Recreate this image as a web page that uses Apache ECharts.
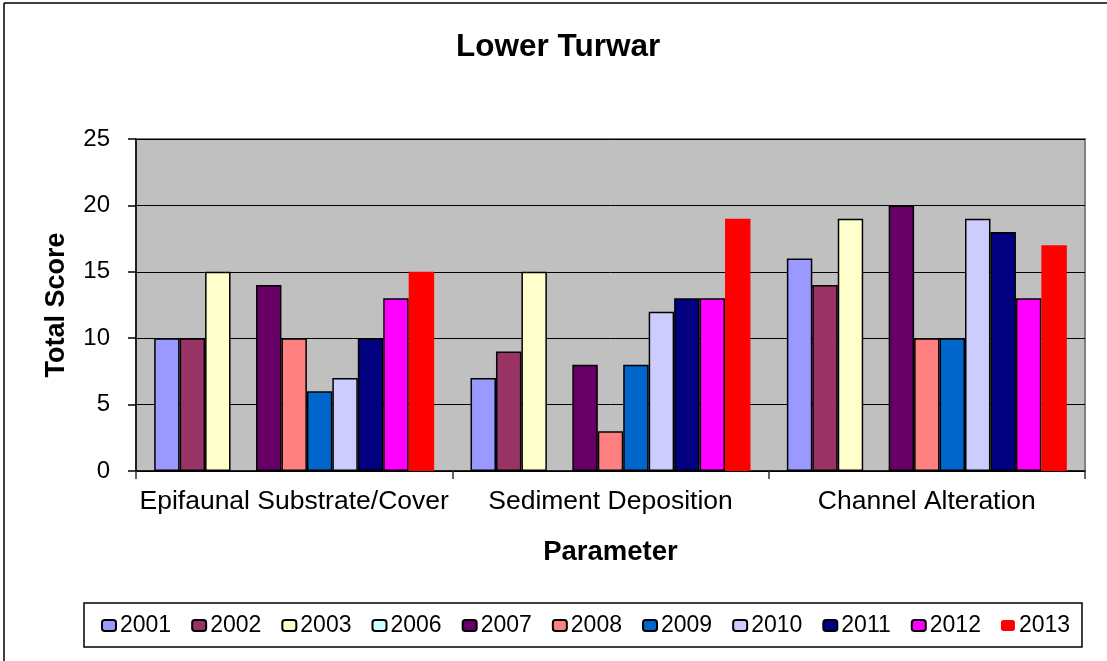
<!DOCTYPE html>
<html>
<head>
<meta charset="utf-8">
<script src="https://cdn.jsdelivr.net/npm/echarts@6/dist/echarts.min.js"></script>
<style>
  html, body { margin: 0; padding: 0; background: #fff; }
  #chart { width: 1107px; height: 661px; }
</style>
</head>
<body>
<div id="chart"></div>
<script>
  // categories and tick labels
  var categories = ['Epifaunal Substrate/Cover', 'Sediment Deposition', 'Channel Alteration']
  var years = ['2001', '2002', '2003', '2006', '2007', '2008', '2009', '2010', '2011', '2012', '2013']
  var yTicks = [0, 5, 10, 15, 20, 25]

  // scores per year (Epifaunal, Sediment, Channel)
  var s2001 = [10, 7, 16]
  var s2002 = [10, 9, 14]
  var s2003 = [15, 15, 19]
  var s2006 = [null, null, null]
  var s2007 = [14, 8, 20]
  var s2008 = [10, 3, 10]
  var s2009 = [6, 8, 10]
  var s2010 = [7, 12, 19]
  var s2011 = [10, 13, 18]
  var s2012 = [13, 13, 13]
  var s2013 = [15, 19, 17]

  var seriesData = [s2001, s2002, s2003, s2006, s2007, s2008, s2009, s2010, s2011, s2012, s2013]
  var colors = ['#9999FF', '#993366', '#FFFFCC', '#CCFFFF', '#660066', '#FF8080',
                '#0066CC', '#CCCCFF', '#000080', '#FF00FF', '#FF0000']

  var font = 'Liberation Sans, Arial, sans-serif'

  let myChart = echarts.init(document.getElementById('chart'))

  var series = years.map(function (y, i) {
    var noBorder = (y === '2013')
    return {
      name: y,
      type: 'bar',
      barGap: 0,
      barCategoryGap: '11.5%',
      itemStyle: {
        color: colors[i],
        borderColor: noBorder ? colors[i] : '#000',
        borderWidth: noBorder ? 0 : 1.5
      },
      data: seriesData[i]
    }
  })

  var option = {
    animation: false,
    backgroundColor: '#fff',
    title: {
      text: 'Lower Turwar',
      left: 456,
      top: 31,
      padding: 0,
      textStyle: { fontFamily: font, fontSize: 31.5, fontWeight: 'bold', color: '#000' }
    },
    legend: {
      data: years,
      left: 101,
      top: 614,
      padding: 0,
      itemWidth: 14,
      itemHeight: 11,
      itemGap: 20,
      textStyle: { fontFamily: font, fontSize: 23, color: '#000', padding: [0, 0, 0, -1] }
    },
    grid: {
      left: 136,
      right: 22,
      top: 139,
      bottom: 190,
      show: true,
      backgroundColor: '#C0C0C0',
      borderColor: '#808080',
      borderWidth: 2
    },
    xAxis: {
      type: 'category',
      data: categories,
      name: 'Parameter',
      nameLocation: 'middle',
      nameGap: 67,
      nameTextStyle: { fontFamily: font, fontSize: 27.5, fontWeight: 'bold', color: '#000' },
      axisLine: { lineStyle: { color: '#000', width: 1.5 } },
      axisTick: { show: true, length: 8, lineStyle: { color: '#333', width: 1.5 } },
      axisLabel: { interval: 0, fontFamily: font, fontSize: 26.5, color: '#000', margin: 17 }
    },
    yAxis: {
      type: 'value',
      min: yTicks[0],
      max: yTicks[yTicks.length - 1],
      interval: yTicks[1] - yTicks[0],
      name: 'Total Score',
      nameLocation: 'middle',
      nameRotate: 90,
      nameGap: 66,
      nameTextStyle: { fontFamily: font, fontSize: 27, fontWeight: 'bold', color: '#000' },
      axisLine: { show: true, lineStyle: { color: '#000', width: 1.5 } },
      axisTick: { show: true, length: 8, lineStyle: { color: '#000', width: 1.5 } },
      axisLabel: { fontFamily: font, fontSize: 24, color: '#000', margin: 26 },
      splitLine: { show: true, lineStyle: { color: '#000', width: 1 } }
    },
    graphic: [
      // outer chart frame (left and top edges visible)
      { type: 'line', shape: { x1: 4, y1: 3, x2: 4, y2: 661 }, style: { stroke: '#000', lineWidth: 1.5 } },
      { type: 'line', shape: { x1: 4, y1: 3, x2: 1107, y2: 3 }, style: { stroke: '#000', lineWidth: 1.5 } },
      // legend box
      { type: 'rect', z: -1, shape: { x: 84, y: 603, width: 998, height: 44 },
        style: { fill: '#fff', stroke: '#000', lineWidth: 1.5 } }
    ],
    series: series
  };

  myChart.setOption(option);
</script>
</body>
</html>
